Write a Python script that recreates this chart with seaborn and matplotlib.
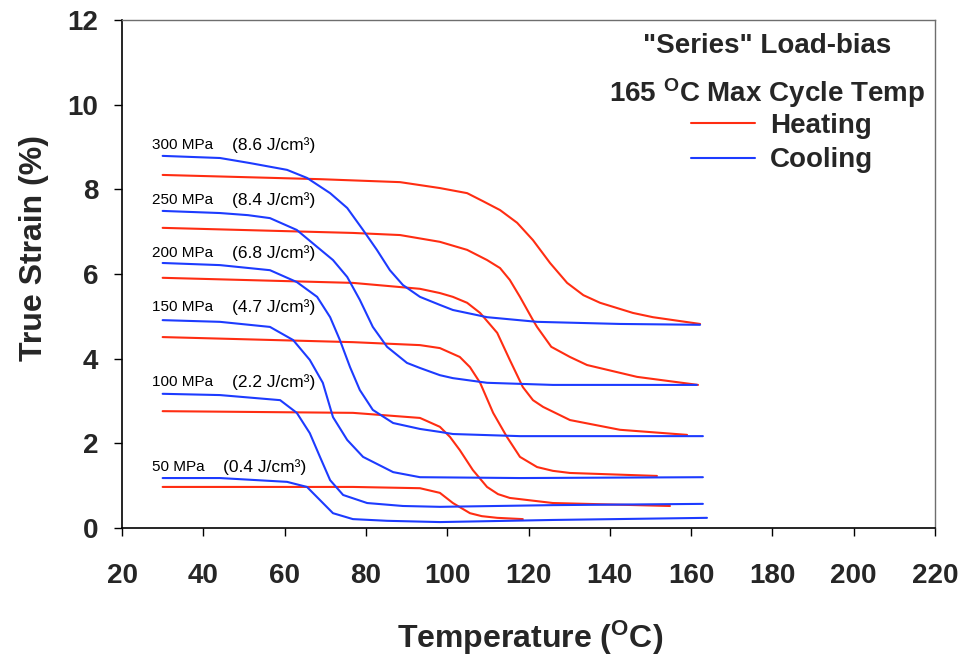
import matplotlib
matplotlib.use("Agg")
import matplotlib.pyplot as plt
from matplotlib.lines import Line2D
import numpy as np
import pandas as pd
import seaborn as sns

# ---- Strain-temperature loops at constant bias stress --------------------
stress_levels = [300, 250, 200, 150, 100, 50]          # MPa
work_output = [8.6, 8.4, 6.8, 4.7, 2.2, 0.4]           # J/cm^3

# Heating branches (temperature in degC, true strain in %)
heat_T_300 = [30, 68.7, 88.4, 98.2, 104.9, 108.8, 113.0, 117.2, 121.1, 125.3, 129.5, 133.5, 137.6, 145.7, 150.6, 162.2]
heat_S_300 = [8.34, 8.24, 8.17, 8.03, 7.91, 7.72, 7.51, 7.21, 6.80, 6.26, 5.79, 5.50, 5.32, 5.08, 4.98, 4.82]
heat_T_250 = [30, 76.8, 88.4, 98.2, 104.9, 109.8, 113.0, 115.4, 117.9, 121.1, 122.1, 125.6, 130.2, 134.4, 146.7, 161.7]
heat_S_250 = [7.09, 6.97, 6.92, 6.76, 6.57, 6.33, 6.14, 5.86, 5.46, 4.91, 4.75, 4.28, 4.04, 3.85, 3.57, 3.38]
heat_T_200 = [30, 76.8, 93.3, 98.2, 101.4, 104.9, 108.1, 112.3, 115.4, 118.6, 121.1, 123.6, 130.2, 142.5, 159.0]
heat_S_200 = [5.91, 5.79, 5.65, 5.55, 5.46, 5.32, 5.08, 4.61, 3.97, 3.33, 3.02, 2.86, 2.55, 2.32, 2.20]
heat_T_150 = [30, 76.8, 93.3, 98.2, 103.1, 105.6, 108.1, 111.3, 114.7, 117.9, 122.1, 126.0, 130.2, 151.6]
heat_S_150 = [4.51, 4.39, 4.32, 4.25, 4.04, 3.80, 3.43, 2.72, 2.15, 1.68, 1.44, 1.35, 1.30, 1.23]
heat_T_100 = [30, 76.8, 93.3, 98.2, 100.7, 103.1, 106.3, 109.8, 112.5, 115.4, 126.0, 154.8]
heat_S_100 = [2.76, 2.72, 2.60, 2.39, 2.15, 1.84, 1.37, 0.97, 0.80, 0.71, 0.59, 0.52]
heat_T_50 = [30, 76.8, 93.3, 98.2, 101.4, 105.6, 108.5, 112.3, 118.6]
heat_S_50 = [0.97, 0.97, 0.94, 0.83, 0.59, 0.35, 0.28, 0.24, 0.21]

# Cooling branches
cool_T_300 = [30, 44.1, 51.5, 60.6, 65.5, 71.2, 75.4, 79.3, 82.7, 85.9, 89.1, 93.3, 98.2, 101.4, 109.8, 122.1, 142.5, 162.2]
cool_S_300 = [8.79, 8.74, 8.62, 8.46, 8.27, 7.91, 7.56, 7.04, 6.57, 6.09, 5.74, 5.46, 5.27, 5.15, 4.98, 4.87, 4.82, 4.80]
cool_T_250 = [30, 44.1, 51.0, 56.4, 63.0, 68.0, 71.9, 75.4, 78.5, 81.7, 85.2, 90.1, 93.3, 98.2, 101.4, 109.8, 126.0, 161.4]
cool_S_250 = [7.49, 7.44, 7.39, 7.32, 7.04, 6.64, 6.33, 5.93, 5.39, 4.75, 4.28, 3.90, 3.78, 3.61, 3.54, 3.43, 3.38, 3.38]
cool_T_200 = [30, 44.1, 56.4, 63.0, 68.0, 71.2, 73.6, 76.1, 78.5, 81.7, 86.7, 93.3, 98.2, 101.4, 117.9, 162.9]
cool_S_200 = [6.26, 6.21, 6.09, 5.81, 5.46, 4.98, 4.44, 3.80, 3.26, 2.79, 2.48, 2.34, 2.27, 2.22, 2.17, 2.17]
cool_T_150 = [30, 44.1, 56.4, 62.1, 66.2, 69.4, 71.9, 75.4, 79.3, 86.7, 93.3, 117.9, 162.9]
cool_S_150 = [4.91, 4.87, 4.75, 4.44, 3.97, 3.43, 2.62, 2.08, 1.68, 1.32, 1.20, 1.18, 1.20]
cool_T_100 = [30, 44.1, 58.9, 63.0, 66.2, 68.7, 71.2, 74.4, 80.3, 89.1, 98.2, 126.0, 162.9]
cool_S_100 = [3.17, 3.14, 3.02, 2.72, 2.24, 1.68, 1.13, 0.78, 0.59, 0.52, 0.50, 0.54, 0.57]
cool_T_50 = [30, 44.1, 60.6, 65.5, 68.7, 71.9, 76.8, 85.2, 98.2, 126.0, 163.9]
cool_S_50 = [1.18, 1.18, 1.09, 0.97, 0.66, 0.35, 0.21, 0.17, 0.14, 0.19, 0.24]

# Curve annotation anchors: strain at the text centre for each loop
label_S = [9.05, 7.75, 6.50, 5.22, 3.45, 1.44]

heating = {300: (heat_T_300, heat_S_300), 250: (heat_T_250, heat_S_250),
           200: (heat_T_200, heat_S_200), 150: (heat_T_150, heat_S_150),
           100: (heat_T_100, heat_S_100), 50: (heat_T_50, heat_S_50)}
cooling = {300: (cool_T_300, cool_S_300), 250: (cool_T_250, cool_S_250),
           200: (cool_T_200, cool_S_200), 150: (cool_T_150, cool_S_150),
           100: (cool_T_100, cool_S_100), 50: (cool_T_50, cool_S_50)}

rows = []
for branch, table in (("Heating", heating), ("Cooling", cooling)):
    for stress, (temps, strains) in table.items():
        for t, s in zip(temps, strains):
            rows.append({"Temperature": t, "Strain": s, "Branch": branch,
                         "Curve": f"{branch}-{stress}"})
df = pd.DataFrame(rows)

# ---- Styling --------------------------------------------------------------
sns.set_style("white")
plt.rcParams["font.family"] = ["Liberation Sans", "DejaVu Sans"]
plt.rcParams["mathtext.fontset"] = "custom"
plt.rcParams["mathtext.rm"] = "Liberation Sans:bold"
plt.rcParams["mathtext.it"] = "Liberation Sans:bold"
plt.rcParams["mathtext.bf"] = "Liberation Sans:bold"

RED = "#ff2d12"
BLUE = "#1d3bff"
palette = {"Heating": RED, "Cooling": BLUE}

fig = plt.figure(figsize=(9.64, 6.57), dpi=100)
ax = fig.add_axes([122 / 964, 1 - 528 / 657, 813 / 964, 508 / 657])

sns.lineplot(data=df, x="Temperature", y="Strain", hue="Branch", units="Curve",
             estimator=None, sort=False, palette=palette, linewidth=1.5,
             legend=False, ax=ax)

ax.set_xlim(20, 220)
ax.set_ylim(0, 12)
ax.set_xticks(np.arange(20, 221, 20))
ax.set_yticks(np.arange(0, 13, 2))

for side in ("left", "bottom"):
    ax.spines[side].set_color("black")
    ax.spines[side].set_linewidth(1.2)
for side in ("top", "right"):
    ax.spines[side].set_color("#6e6e6e")
    ax.spines[side].set_linewidth(1.0)

ax.tick_params(axis="both", which="major", direction="out", length=6,
               width=1.0, color="black", labelsize=20,
               bottom=True, left=True, top=False, right=False)
ax.tick_params(axis="x", pad=19)
ax.tick_params(axis="y", pad=11)
for lab in ax.get_xticklabels() + ax.get_yticklabels():
    lab.set_fontweight("bold")

ax.set_xlabel(r"Temperature (${}^{\mathrm{O}}$C)", fontsize=23, fontweight="bold",
              va="baseline")
ax.xaxis.set_label_coords((530 - 122) / 813, (528 - 648) / 508)
ax.set_ylabel("True Strain (%)", fontsize=23, fontweight="bold",
              rotation_mode="anchor", ha="center", va="baseline")
ax.yaxis.set_label_coords((42 - 122) / 813, (528 - 248) / 508)

# Stress / work-output annotations for each loop
stress_text_T = 27.4
work_text_T = [47.1, 47.1, 47.1, 47.1, 47.1, 44.9]
for stress, work, s, wt in zip(stress_levels, work_output, label_S, work_text_T):
    ax.text(stress_text_T, s, f"{stress} MPa", fontsize=11,
            ha="left", va="center", color="black")
    ax.text(wt, s, f"({work} J/cm\u00b3)", fontsize=12.5,
            ha="left", va="center", color="black")

# Header and legend
hx = (767 - 122) / 813
ax.text(hx, (528 - 53) / 508, '"Series" Load-bias', transform=ax.transAxes,
        ha="center", va="baseline", fontsize=20, fontweight="bold")
ax.text(hx, (528 - 102) / 508, r"165 ${}^{\mathrm{O}}$C Max Cycle Temp",
        transform=ax.transAxes, ha="center", va="baseline", fontsize=20,
        fontweight="bold")

handles = [Line2D([], [], color=RED, lw=1.5), Line2D([], [], color=BLUE, lw=1.5)]
leg = ax.legend(handles, ["Heating", "Cooling"], loc="upper left",
                bbox_to_anchor=((691 - 122) / 813, (528 - 113) / 508),
                frameon=False, borderpad=0, borderaxespad=0,
                handlelength=2.3, handletextpad=0.55, labelspacing=0.3,
                prop={"family": "Liberation Sans", "weight": "bold", "size": 20})

fig.savefig("out.png", dpi=100, facecolor="white")
